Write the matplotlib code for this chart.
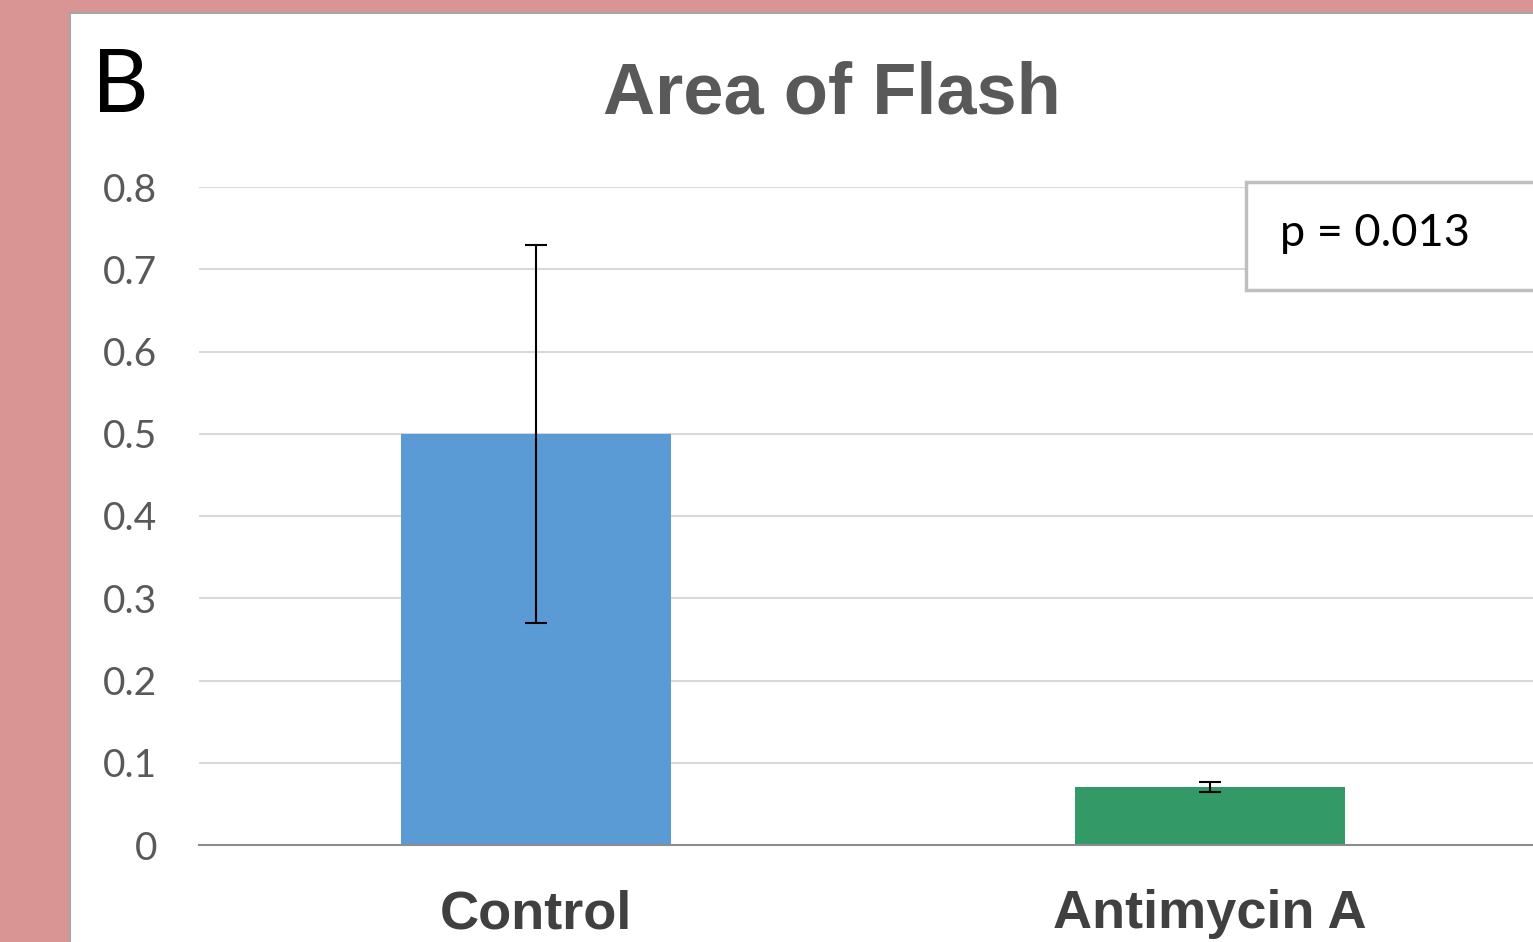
import numpy as np
import matplotlib
matplotlib.use("Agg")
import matplotlib.pyplot as plt
from matplotlib.patches import Rectangle

# data
groups = ["Control", "Antimycin A"]
means = [0.50, 0.07]
errors = [0.23, 0.006]
bar_colors = ["#5B9BD5", "#339966"]
yticks = [0, 0.1, 0.2, 0.3, 0.4, 0.5, 0.6, 0.7, 0.8]
ytick_labels = ["0", "0.1", "0.2", "0.3", "0.4", "0.5", "0.6", "0.7", "0.8"]

W, H = 1533, 942
fig = plt.figure(figsize=(W / 100, H / 100), dpi=100)
fig.patch.set_facecolor("#D99594")

# white panel with grey border
panel = Rectangle((70 / W, -0.01), 1.05, (H - 13) / H + 0.01, transform=fig.transFigure,
                  facecolor="white", edgecolor="#A6A6A6", linewidth=1.5, zorder=-5)
fig.patches.append(panel)

ax = fig.add_axes([199 / W, (H - 845) / H, 1348 / W, 658 / H])
ax.set_facecolor("none")
x = np.arange(len(groups))
ax.bar(x, means, width=0.4, color=bar_colors, zorder=2)
ax.errorbar(x, means, yerr=errors, fmt="none", ecolor="black", elinewidth=1.5,
            capsize=8, capthick=1.5, zorder=3)

ax.set_xlim(-0.5, 1.5)
ax.set_ylim(0, 0.8)
ax.set_yticks(yticks)
ax.set_yticklabels(ytick_labels)
ax.grid(axis="y", color="#D9D9D9", linewidth=1.5, zorder=0)
ax.set_axisbelow(True)
for s in ["top", "right", "left"]:
    ax.spines[s].set_visible(False)
ax.spines["bottom"].set_color("#8C8C8C")
ax.spines["bottom"].set_linewidth(1.5)
ax.tick_params(axis="both", length=0)
ax.tick_params(axis="y", pad=30, labelsize=28, labelcolor="#595959")
for lab in ax.get_yticklabels():
    lab.set_family("Lato")
ax.set_xticks(x)
ax.set_xticklabels(groups, fontsize=39, fontweight="bold", color="#404040",
                   family="Liberation Sans")
ax.tick_params(axis="x", pad=32)

fig.text(832 / W, 1 - 94 / H, "Area of Flash", ha="center", va="center",
         fontsize=52, fontweight="bold", color="#595959", family="Liberation Sans")
fig.text(92 / W, 1 - 88 / H, "B", ha="left", va="center", fontsize=63,
         color="black", family="Lato")

# p-value box
box = Rectangle((1246 / W, 1 - 290 / H), 0.3, 108 / H, transform=fig.transFigure,
                facecolor="white", edgecolor="#BFBFBF", linewidth=2.5, zorder=5)
fig.patches.append(box)
fig.text(1280 / W, 1 - 234 / H, "p = 0.013", ha="left", va="center", fontsize=32.5,
         color="black", family="Lato", zorder=6)

fig.savefig("out.png", dpi=100)
